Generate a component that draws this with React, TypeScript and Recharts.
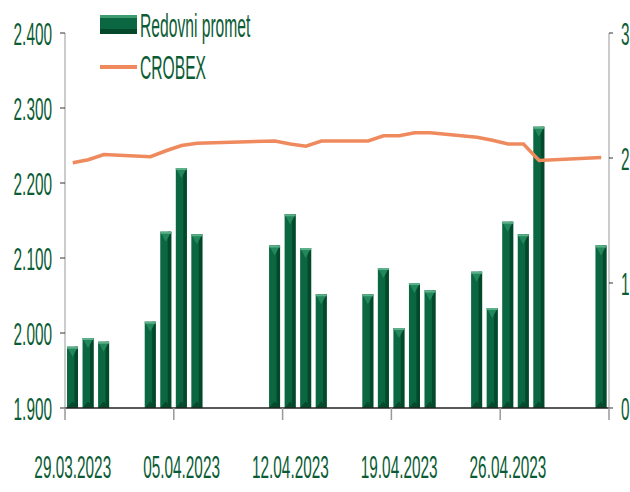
import { ComposedChart, Bar, Line, XAxis, YAxis } from "recharts"

const dates = [
  "29.03.2023", "30.03.2023", "31.03.2023", "01.04.2023", "02.04.2023",
  "03.04.2023", "04.04.2023", "05.04.2023", "06.04.2023", "07.04.2023",
  "08.04.2023", "09.04.2023", "10.04.2023", "11.04.2023", "12.04.2023",
  "13.04.2023", "14.04.2023", "15.04.2023", "16.04.2023", "17.04.2023",
  "18.04.2023", "19.04.2023", "20.04.2023", "21.04.2023", "22.04.2023",
  "23.04.2023", "24.04.2023", "25.04.2023", "26.04.2023", "27.04.2023",
  "28.04.2023", "29.04.2023", "30.04.2023", "01.05.2023", "02.05.2023",
]

// redovni promet (right axis), null = no trading
const promet = [
  0.49, 0.56, 0.53, null, null,
  0.69, 1.41, 1.92, 1.39, null,
  null, null, null, 1.30, 1.55,
  1.28, 0.91, null, null, 0.91,
  1.12, 0.64, 1.00, 0.94, null,
  null, 1.09, 0.80, 1.49, 1.39,
  2.25, null, null, null, 1.30,
]

const crobex = [
  2227, 2231, 2238, null, null,
  2235, 2243, 2250, 2253, null,
  null, null, null, 2256, 2252,
  2249, 2256, null, null, 2256,
  2263, 2263, 2267, 2267, null,
  null, 2261, 2257, 2252, 2252,
  2230, null, null, null, 2234,
]

const dateTicks = ["29.03.2023", "05.04.2023", "12.04.2023", "19.04.2023", "26.04.2023", "02.05.2023"]
const leftTicks = [1900, 2000, 2100, 2200, 2300, 2400]
const rightTicks = [0, 1, 2, 3]
const legendItems = ["Redovni promet", "CROBEX"]

const data = dates.map((d, i) => ({ date: d, promet: promet[i], crobex: crobex[i] }))

const GREEN_TXT = "#0b5c34"
const FONT = "'Liberation Sans', Arial, sans-serif"
const BAND = 544 / dates.length

const fmtThousands = (v: number) =>
  `${Math.floor(v / 1000)}.${String(v % 1000).padStart(3, "0")}`

function LeftTick({ x, y, payload }: any) {
  return (
    <g transform={`translate(${x},${y}) scale(0.48,1)`}>
      <text textAnchor="end" dy="0.36em" fill={GREEN_TXT} fontFamily={FONT} fontSize={32}>
        {fmtThousands(payload.value)}
      </text>
    </g>
  )
}

function RightTick({ x, y, payload }: any) {
  return (
    <g transform={`translate(${x},${y}) scale(0.48,1)`}>
      <text textAnchor="start" dy="0.36em" fill={GREEN_TXT} fontFamily={FONT} fontSize={32}>
        {payload.value}
      </text>
    </g>
  )
}

function DateTick({ x, y, payload }: any) {
  const last = payload.value === "02.05.2023"
  const lx = last ? x + BAND / 2 : x - BAND / 2
  return (
    <g>
      <line x1={lx} x2={lx} y1={408} y2={420} stroke="#999" strokeWidth={1.5} />
      {!last && (
        <g transform={`translate(${x},${y + 62}) scale(0.48,1)`}>
          <text textAnchor="middle" fill={GREEN_TXT} fontFamily={FONT} fontSize={32}>
            {payload.value}
          </text>
        </g>
      )}
    </g>
  )
}

function BevelBar({ x, y, width, height }: any) {
  if (!height || height <= 0) return null
  const w = width
  const cap = Math.min(w * 0.9, height)
  return (
    <g>
      <rect x={x} y={y} width={w} height={height} fill="#0a6741" />
      <rect x={x + w * 0.68} y={y} width={w * 0.32} height={height} fill="#03482a" />
      <polygon points={`${x},${y + height} ${x + w},${y + height} ${x + w / 2},${y + height - w * 0.6}`} fill="#054a2d" />
      <polygon points={`${x},${y} ${x + w},${y} ${x + w / 2},${y + cap}`} fill="#22875a" />
      <rect x={x} y={y} width={w} height={2} fill="#5caf88" />
    </g>
  )
}

function LegendBox() {
  return (
    <svg width={420} height={100} style={{ position: "absolute", left: 100, top: 0 }}>
      <rect x={0} y={15} width={37} height={19} fill="#0a6741" />
      <rect x={0} y={15} width={37} height={3} fill="#3e9c70" />
      <rect x={0} y={29} width={37} height={5} fill="#03482a" />
      <g transform="translate(40,37) scale(0.46,1)">
        <text fill={GREEN_TXT} fontFamily={FONT} fontSize={34}>{legendItems[0]}</text>
      </g>
      <line x1={0} x2={37} y1={67} y2={67} stroke="#ef8a5e" strokeWidth={4} />
      <g transform="translate(40,79) scale(0.46,1)">
        <text fill={GREEN_TXT} fontFamily={FONT} fontSize={34}>{legendItems[1]}</text>
      </g>
    </svg>
  )
}

export default function App() {
  return (
    <div style={{ position: "absolute", left: 0, top: 0, width: 630, height: 492, background: "#fff" }}>
      <ComposedChart width={630} height={492} data={data} margin={{ top: 33, right: 0, left: 0, bottom: 0 }}>
        <XAxis
          dataKey="date"
          ticks={dateTicks}
          interval={0}
          tick={<DateTick />}
          tickLine={false}
          axisLine={{ stroke: "#222", strokeWidth: 1.5 }}
          height={84}
        />
        <YAxis
          yAxisId="left"
          domain={[1900, 2400]}
          ticks={leftTicks}
          tick={<LeftTick />}
          width={65}
          tickSize={5}
          tickMargin={8}
          axisLine={{ stroke: "#999" }}
          tickLine={{ stroke: "#333" }}
          allowDataOverflow
        />
        <YAxis
          yAxisId="right"
          orientation="right"
          domain={[0, 3]}
          ticks={rightTicks}
          tick={<RightTick />}
          width={21}
          tickSize={4}
          tickMargin={8}
          axisLine={{ stroke: "#999" }}
          tickLine={{ stroke: "#333" }}
        />
        <Bar
          yAxisId="right"
          dataKey="promet"
          name={legendItems[0]}
          barSize={11}
          shape={<BevelBar />}
          isAnimationActive={false}
        />
        <Line
          yAxisId="left"
          dataKey="crobex"
          name={legendItems[1]}
          type="linear"
          stroke="#ef8a5e"
          strokeWidth={3.5}
          dot={false}
          connectNulls
          isAnimationActive={false}
        />
      </ComposedChart>
      <LegendBox />
    </div>
  )
}
